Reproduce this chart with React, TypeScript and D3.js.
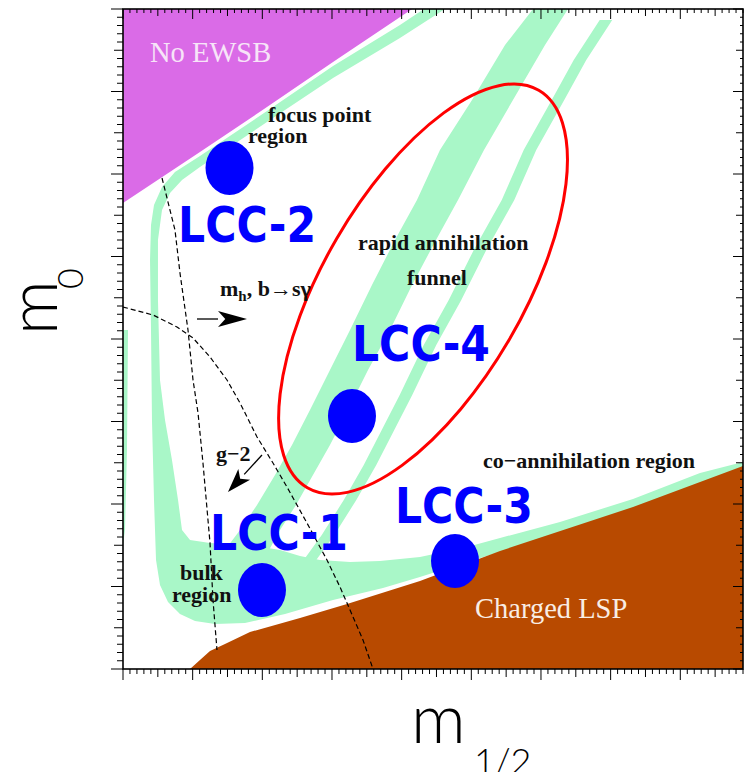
import React from 'react';
import * as d3 from 'd3';

const W = 745;
const H = 772;
const PLOT = { left: 123, right: 743, top: 9, bottom: 669 };

// m1/2 and m0 axes (GeV)
const M12_DOMAIN: [number, number] = [0, 890];
const M0_DOMAIN: [number, number] = [0, 4000];
const M12_MAJOR = 100, M12_MID = 50, M12_MINOR = 10;
const M0_MAJOR = 500, M0_MID = 250, M0_MINOR = 50;

// Excluded: no electroweak symmetry breaking (upper left)
const noEwsbRegion: [number, number][] = [
  [0, 4000], [415, 4000], [301.5, 3679], [206.7, 3406], [110.5, 3133], [0, 2824],
];

// Excluded: charged LSP (lower right)
const chargedLspRegion: [number, number][] = [
  [96.2, 0], [110.5, 54.5], [124.9, 109.1], [146.4, 151.5], [182.3, 224.2],
  [254.1, 309.1], [321.6, 393.9], [426.3, 533.3], [541.2, 715.2], [732.1, 981.8],
  [890, 1230.3], [890, 0],
];

// Relic-density band: focus point strip, bulk region and co-annihilation strip
const relicBand: [number, number][] = [
  [432.1, 4000], [397.6, 3903], [301.5, 3654.5], [206.7, 3381.8], [110.5, 3109.1],
  [74.6, 3012.1], [56.0, 2921.2], [44.5, 2812.1], [40.2, 2690.9], [38.8, 2478.8],
  [40.2, 2054.5], [41.6, 1509.1], [44.5, 1024.2], [47.4, 660.6], [53.1, 509.1],
  [64.6, 406.1], [81.8, 333.3], [103.4, 290.9], [132.1, 272.7], [175.1, 278.8],
  [232.6, 333.3], [301.5, 418.2], [373.2, 490.9], [426.3, 557.6], [493.8, 648.5],
  [541.2, 709.1], [627.3, 830.3], [732.1, 975.8], [828.3, 1121.2], [890, 1206.1],
  [890, 1254.5], [828.3, 1187.9], [732.1, 1030.3], [627.3, 890.9], [541.2, 793.9],
  [493.8, 739.4], [426.3, 678.8], [368.9, 654.5], [325.9, 648.5], [282.8, 660.6],
  [254.1, 684.8], [225.4, 721.2], [182.3, 751.5], [124.9, 763.6], [96.2, 781.8],
  [84.7, 842.4], [79.0, 1024.2], [70.3, 1266.7], [60.3, 1509.1], [53.1, 1751.5],
  [50.2, 2236.4], [50.2, 2600], [56.0, 2781.8], [67.5, 2884.8], [84.7, 2963.6],
  [110.5, 3042.4], [206.7, 3315.2], [301.5, 3581.8], [397.6, 3824.2], [462.2, 4000],
];

// Thin sliver of allowed relic density hugging the m1/2 = 0 edge
const edgeSliver: [number, number][] = [
  [0, 2054.5], [7.2, 2054.5], [5.7, 1327.3], [2.9, 842.4], [0, 751.5],
];

// Rapid annihilation funnel: broad branch
const funnelBroad: [number, number][] = [
  [588.6, 4000], [548.4, 3781.8], [501.0, 3448.5], [455.0, 3145.5], [422.0, 2842.4],
  [390.4, 2600], [357.4, 2327.3], [325.9, 2054.5], [297.1, 1812.1], [268.4, 1569.7],
  [242.6, 1357.6], [218.2, 1175.8], [192.4, 993.9], [168.0, 842.4], [146.4, 721.2],
  [208.1, 709.1], [225.4, 842.4], [248.3, 993.9], [272.7, 1175.8], [297.1, 1357.6],
  [323.0, 1569.7], [351.7, 1812.1], [383.3, 2054.5], [414.9, 2327.3], [449.3, 2600],
  [480.9, 2842.4], [518.2, 3145.5], [559.8, 3448.5], [605.8, 3781.8], [638.8, 4000],
];

// Rapid annihilation funnel: narrow branch (centre line, GeV)
const funnelNarrowSpine: [number, number][] = [
  [693.3, 3933.3], [656.0, 3690.9], [624.4, 3448.5], [584.2, 3145.5], [552.7, 2842.4],
  [512.5, 2539.4], [476.6, 2236.4], [440.7, 1963.6], [406.2, 1660.6], [380.4, 1448.5],
  [354.6, 1236.4], [325.9, 1024.2], [294.3, 812.1], [268.4, 660.6],
];
const FUNNEL_NARROW_HALF = 9;

// Constraint contours
const higgsBsgContour: [number, number][] = [
  [0, 2193.9], [43.1, 2145.5], [77.5, 2072.7], [100.5, 2006.1], [124.9, 1890.9],
  [149.3, 1751.5], [168.0, 1612.1], [192.4, 1406.1], [215.3, 1248.5], [235.4, 1103.0],
  [264.1, 884.8], [292.8, 660.6], [311.5, 497.0], [325.9, 357.6], [344.5, 175.8],
  [358.9, 0],
];
const gMinus2Contour: [number, number][] = [
  [56.0, 2975.8], [74.6, 2660.6], [81.8, 2400], [93.3, 2054.5], [100.5, 1751.5],
  [107.7, 1551.5], [114.8, 1248.5], [124.9, 763.6], [129.2, 418.2], [134.9, 115.2],
];

// Arrows showing the allowed side of each contour
const higgsBsgArrow: [number, number][] = [[106.2, 2121.2], [178.0, 2121.2]];
const gMinus2Arrow: [number, number][] = [[199.5, 1297.0], [150.7, 1072.7]];

// Linear collider cosmology benchmark points
const lccNames = ['LCC-1', 'LCC-2', 'LCC-3', 'LCC-4'];
const lccM12 = [199.5, 152.9, 476.6, 328.7];
const lccM0 = [478.8, 3036.4, 654.5, 1533.3];
const lccLabelAt: [number, number][] = [
  [124.9, 721.2], [79.0, 2587.9], [390.4, 884.8], [328.7, 1866.7],
];

// Funnel highlight
const funnelEllipseCentre: [number, number] = [430.7, 2303.0];

const regionLabels: { text: string; at: [number, number] }[] = [
  { text: 'focus point', at: [208.1, 3315.2] },
  { text: 'region', at: [179.4, 3187.9] },
  { text: 'rapid annihilation', at: [337.3, 2539.4] },
  { text: 'funnel', at: [407.7, 2327.3] },
  { text: 'g\u22122', at: [133.5, 1260.6] },
  { text: 'co\u2212annihilation region', at: [516.8, 1218.2] },
  { text: 'bulk', at: [81.8, 539.4] },
  { text: 'region', at: [70.3, 406.1] },
];
const higgsLabelAt: [number, number] = [139.2, 2260.6];
const noEwsbLabelAt: [number, number] = [38.8, 3678.8];
const chargedLabelAt: [number, number] = [505.3, 309.1];

const COLORS = {
  noEwsb: '#da6be7',
  charged: '#b84a00',
  relic: '#a9f7c8',
  lcc: '#0000ff',
  ellipse: '#ff0000',
};

export default function App() {
  const x = d3.scaleLinear().domain(M12_DOMAIN).range([PLOT.left, PLOT.right]);
  const y = d3.scaleLinear().domain(M0_DOMAIN).range([PLOT.bottom, PLOT.top]);
  const poly = (pts: [number, number][]) =>
    (d3.line<[number, number]>().x((d) => x(d[0])).y((d) => y(d[1]))(pts) || '') + 'Z';
  const open = d3.line<[number, number]>().x((d) => x(d[0])).y((d) => y(d[1]));

  const narrow: [number, number][] = [
    ...funnelNarrowSpine.map(([a, b]) => [a - FUNNEL_NARROW_HALF, b] as [number, number]),
    ...funnelNarrowSpine.map(([a, b]) => [a + FUNNEL_NARROW_HALF, b] as [number, number]).reverse(),
  ];

  const xTicks = d3.range(M12_DOMAIN[0], M12_DOMAIN[1] + 0.001, M12_MINOR);
  const yTicks = d3.range(M0_DOMAIN[0], M0_DOMAIN[1] + 0.001, M0_MINOR);
  const lenX = (v: number, big: number, mid: number, small: number) =>
    Math.round(v) % M12_MAJOR === 0 ? big : Math.round(v) % M12_MID === 0 ? mid : small;
  const lenY = (v: number, big: number, mid: number, small: number) =>
    Math.round(v) % M0_MAJOR === 0 ? big : Math.round(v) % M0_MID === 0 ? mid : small;

  const arrow = (seg: [number, number][], headLen: number, headHalf: number) => {
    const [x0, y0] = [x(seg[0][0]), y(seg[0][1])];
    const [x1, y1] = [x(seg[1][0]), y(seg[1][1])];
    const ang = Math.atan2(y1 - y0, x1 - x0);
    const bx = x1 - headLen * Math.cos(ang);
    const by = y1 - headLen * Math.sin(ang);
    const nx = -Math.sin(ang), ny = Math.cos(ang);
    return (
      <g>
        <line x1={x0} y1={y0} x2={bx} y2={by} stroke="#000" strokeWidth={1.3} />
        <path
          d={`M${x1},${y1}L${bx + nx * headHalf},${by + ny * headHalf}L${bx + 0.25 * headLen * Math.cos(ang)},${by + 0.25 * headLen * Math.sin(ang)}L${bx - nx * headHalf},${by - ny * headHalf}Z`}
          fill="#000"
        />
      </g>
    );
  };

  const serif = { fontFamily: '"Liberation Serif", "Times New Roman", serif', fontWeight: 700, fontSize: 22, fill: '#111' };
  const lccFont = { fontFamily: '"DejaVu Sans", "Liberation Sans", sans-serif', fontWeight: 700, fontSize: 49, fill: COLORS.lcc };
  const titleFont = { fontFamily: 'Lato, "Open Sans", sans-serif', fontWeight: 300, fill: '#000' };

  const [ecx, ecy] = [x(funnelEllipseCentre[0]), y(funnelEllipseCentre[1])];

  return (
    <svg width={W} height={H} style={{ position: 'absolute', left: 0, top: 0, background: '#fff' }}>
      <defs>
        <clipPath id="plot-area">
          <rect x={PLOT.left} y={PLOT.top} width={PLOT.right - PLOT.left} height={PLOT.bottom - PLOT.top} />
        </clipPath>
      </defs>
      <rect width={W} height={H} fill="#fff" />

      <g clipPath="url(#plot-area)">
        <path d={poly(noEwsbRegion)} fill={COLORS.noEwsb} />
        <path d={poly(relicBand)} fill={COLORS.relic} />
        <path d={poly(edgeSliver)} fill={COLORS.relic} />
        <path d={poly(funnelBroad)} fill={COLORS.relic} />
        <path d={poly(narrow)} fill={COLORS.relic} />
        <path d={poly(chargedLspRegion)} fill={COLORS.charged} />

        <path d={open(higgsBsgContour) || ''} fill="none" stroke="#000" strokeWidth={1.2} strokeDasharray="5,3" />
        <path d={open(gMinus2Contour) || ''} fill="none" stroke="#000" strokeWidth={1.2} strokeDasharray="5,3" />
        {arrow(higgsBsgArrow, 29, 8)}
        {arrow(gMinus2Arrow, 24, 8)}

        <ellipse cx={ecx} cy={ecy} rx={230} ry={100} transform={`rotate(-59.8 ${ecx} ${ecy})`}
          fill="none" stroke={COLORS.ellipse} strokeWidth={3} />

        <text x={x(noEwsbLabelAt[0])} y={y(noEwsbLabelAt[1])} style={{ fontFamily: '"Liberation Serif", serif', fontSize: 28.5, fill: '#f7e4f8' }}>No EWSB</text>
        <text x={x(chargedLabelAt[0])} y={y(chargedLabelAt[1])} style={{ fontFamily: '"Liberation Serif", serif', fontSize: 28.5, fill: '#f9ede4' }}>Charged LSP</text>

        {regionLabels.map((l, i) => (
          <text key={i} x={x(l.at[0])} y={y(l.at[1])} style={serif}>{l.text}</text>
        ))}
        <text x={x(higgsLabelAt[0])} y={y(higgsLabelAt[1])} style={serif}>
          m<tspan fontSize={15} dy={5}>h</tspan><tspan dy={-5}>, b{'\u2192'}s{'\u03b3'}</tspan>
        </text>

        {lccNames.map((n, i) => (
          <ellipse key={n} cx={x(lccM12[i])} cy={y(lccM0[i])} rx={24} ry={27} fill={COLORS.lcc} />
        ))}
        {lccNames.map((n, i) => (
          <text key={n + 't'} x={x(lccLabelAt[i][0])} y={y(lccLabelAt[i][1])} style={lccFont}
            textLength={138} lengthAdjust="spacingAndGlyphs">{n}</text>
        ))}
      </g>

      {/* frame */}
      <rect x={PLOT.left} y={PLOT.top} width={PLOT.right - PLOT.left} height={PLOT.bottom - PLOT.top}
        fill="none" stroke="#000" strokeWidth={1.6} />

      {/* bottom (outside) and top (inside) ticks */}
      {xTicks.map((v) => (
        <g key={'x' + v} stroke="#000" strokeWidth={1}>
          <line x1={x(v)} x2={x(v)} y1={PLOT.bottom} y2={PLOT.bottom + lenX(v, 11, 8, 5)} />
          <line x1={x(v)} x2={x(v)} y1={PLOT.top} y2={PLOT.top + lenX(v, 10, 7, 4)} />
        </g>
      ))}
      {/* left (outside) and right (inside) ticks */}
      {yTicks.map((v) => (
        <g key={'y' + v} stroke="#000" strokeWidth={1}>
          <line y1={y(v)} y2={y(v)} x1={PLOT.left} x2={PLOT.left - lenY(v, 12, 9, 6)} />
          <line y1={y(v)} y2={y(v)} x1={PLOT.right} x2={PLOT.right - lenY(v, 10, 7, 3)} />
        </g>
      ))}

      {/* axis titles */}
      <text transform="translate(57,335) rotate(-90)" style={{ ...titleFont, fontSize: 68 }}>m</text>
      <text transform="translate(83,289) rotate(-90)" style={{ ...titleFont, fontSize: 36 }}>0</text>
      <text x={411} y={743} style={{ ...titleFont, fontSize: 68 }}>m</text>
      <text x={474} y={774} style={{ ...titleFont, fontSize: 36 }}>1/2</text>
    </svg>
  );
}
